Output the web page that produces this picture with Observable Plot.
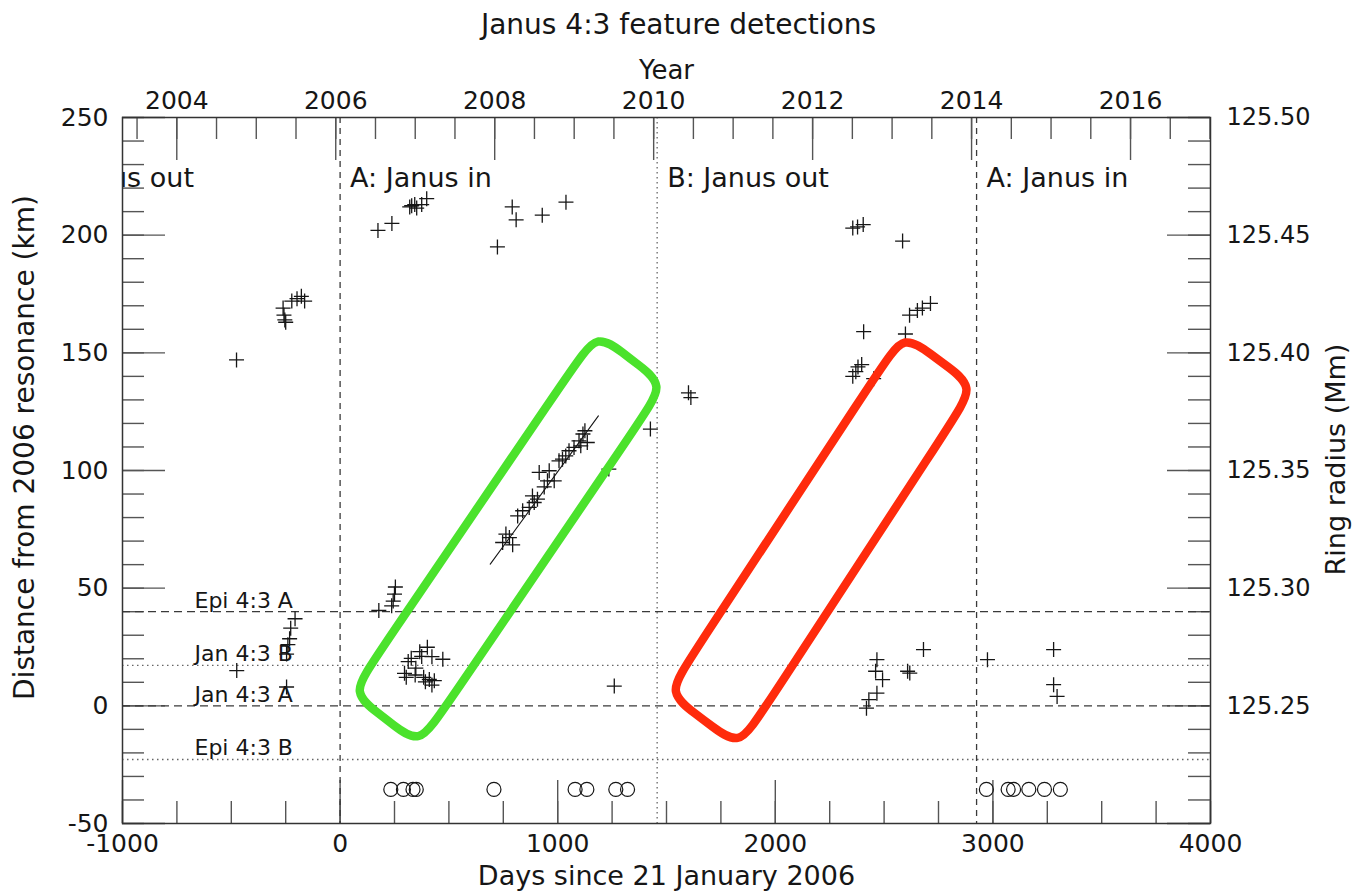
<!DOCTYPE html>
<html>
<head>
<meta charset="utf-8">
<title>Janus 4:3 feature detections</title>
<script src="https://cdn.jsdelivr.net/npm/d3@7"></script>
<script src="https://cdn.jsdelivr.net/npm/@observablehq/plot@0.6"></script>
<style>
  html, body { margin: 0; padding: 0; background: #fff; }
  #chart svg { display: block; }
</style>
</head>
<body>
<div id="chart"></div>
<script>
// ---- Detections: [days since 21 Jan 2006, distance from 2006 resonance (km)] ----
const detections2005 = [
  [-476, 147], [-262, 169], [-258, 166], [-254, 164], [-250, 163],
  [-222, 172], [-198, 173], [-178, 174], [-163, 172],
  [-207, 37], [-227, 33], [-232, 28.5], [-240, 26], [-246, 22], [-246, 8], [-475, 15]
];
const detectionsA2006 = [
  [174, 202], [238, 205], [320, 212], [329, 212.5], [343, 213], [352, 211.5],
  [375, 213], [398, 215.5], [723, 195], [791, 212], [809, 206.5], [929, 208.5], [1038, 214],
  [178, 40.5], [237, 42.5], [244, 44.5], [250, 47.5], [254, 50.5],
  [296, 13.8], [313, 18.8], [327, 20.2], [366, 23], [401, 24.9], [422, 20.9], [472, 19.8],
  [304, 12.1], [345, 13.1], [384, 12.1], [410, 11.2], [433, 10.7], [422, 8.8], [392, 10.2],
  [348, 16], [375, 21],
  [1235, 100.6], [1426, 117.6], [1260, 8.4]
];
const detectionsTrend = [
  [747, 69.4], [778, 71.5], [793, 68.4], [762, 73], [816, 80.7], [839, 82.9], [869, 84.3],
  [884, 89.2], [892, 86.4], [907, 87.8], [915, 99.2], [938, 93], [953, 95.6], [961, 99.9],
  [984, 95.6], [1006, 104.1], [1022, 104.8], [1037, 106.2], [1052, 108.4], [1075, 109.8],
  [1098, 112.6], [1106, 110.5], [1116, 115.5], [1125, 116.9], [1136, 111.9]
];
const detectionsB2010 = [
  [1601, 133], [1612, 131],
  [2356, 203], [2378, 203.5], [2404, 204.5], [2585, 197.5],
  [2356, 140], [2370, 142], [2380, 144], [2397, 145], [2406, 159], [2452, 139],
  [2598, 158], [2617, 166], [2653, 168], [2676, 169], [2713, 171],
  [2467, 19.6], [2461, 14.7], [2493, 11.1], [2467, 5.4], [2430, 2.6], [2419, -1],
  [2608, 14.7], [2618, 13.9], [2681, 23.9]
];
const detectionsA2014 = [[2975, 19.6], [3279, 23.9], [3279, 9], [3295, 4]];

// Observation epochs (circles along the bottom)
const observationDays = [233, 291, 335, 350, 707, 1080, 1134, 1267, 1321,
                         2970, 3070, 3095, 3165, 3237, 3310];
const observationKm = -35.5;

// Linear fit through the drifting feature: [day, km]
const trendFit = [[690, 60.2], [1187, 123.2]];

// Resonance locations (km)
const resonanceLines = [
  { name: "Epi 4:3 A", km: 40, style: "dashed" },
  { name: "Jan 4:3 B", km: 17.2, style: "dotted" },
  { name: "Jan 4:3 A", km: 0, style: "dashed" },
  { name: "Epi 4:3 B", km: -22.8, style: "dotted" }
];

// Co-orbital swap epochs (days) and the configuration that follows
const swapEpochs = [
  { day: -1461, label: "B: Janus out", style: null },
  { day: 0, label: "A: Janus in", style: "dashed" },
  { day: 1457, label: "B: Janus out", style: "dotted" },
  { day: 2925, label: "A: Janus in", style: "dashed" }
];

// Highlight boxes: corners [day, km] (top, right, bottom, left)
const greenBox = [[1179, 158.5], [1491, 136.4], [365, -16.6], [53, 5.5]];
const redBox = [[2589, 158.1], [2916, 135.6], [1835, -17.4], [1505, 5.5]];

// Axis ticks
const dayLabels = [-1000, 0, 1000, 2000, 3000, 4000];
const yearLabels = [2004, 2006, 2008, 2010, 2012, 2014, 2016];
const kmLabels = [-50, 0, 50, 100, 150, 200, 250];

// ---- layout ----
const W = 1359, H = 894;
const M = { top: 117, right: 149, bottom: 71, left: 122 };
const innerW = W - M.left - M.right;
const innerH = H - M.top - M.bottom;
const ink = "#161616";
const tickGray = "#555";
const font = "'DejaVu Sans', 'Liberation Sans', Arial, sans-serif";
const majorLen = 43, minorLen = 22;

const yearToDay = (y) => (y - 2006 - 20 / 365) * 365.25;
const dayMinor = d3.range(-1000, 4001, 250);
const yearMinor = d3.range(2003.5, 2017.01, 0.5).filter((y) => yearToDay(y) >= -1000 && yearToDay(y) <= 4000);
const kmMinor = d3.range(-50, 251, 10);
const radiusFmt = (km) => (125.25 + km / 1000).toFixed(2);

// "+" marker drawn as two strokes
const plusSymbol = {
  draw(ctx, size) {
    const s = Math.sqrt(size / Math.PI);
    ctx.moveTo(-s, 0); ctx.lineTo(s, 0);
    ctx.moveTo(0, -s); ctx.lineTo(0, s);
  }
};

// Rounded rectangle outline: control points around each corner for a closed B-spline
function roundedOutline(corners, frac) {
  const n = corners.length, pts = [];
  for (let i = 0; i < n; i++) {
    const c = corners[i], p = corners[(i + n - 1) % n], q = corners[(i + 1) % n];
    const fp = frac[(i + n - 1) % n], fq = frac[i];
    pts.push([c[0] + (p[0] - c[0]) * fp, c[1] + (p[1] - c[1]) * fp]);
    pts.push(c);
    pts.push([c[0] + (q[0] - c[0]) * fq, c[1] + (q[1] - c[1]) * fq]);
  }
  return pts;
}
const edgeFrac = [0.42, 0.085, 0.42, 0.085];

const detections = [
  ...detections2005, ...detectionsA2006, ...detectionsTrend, ...detectionsB2010, ...detectionsA2014
];

const chart = Plot.plot({
  width: W,
  height: H,
  marginTop: M.top,
  marginRight: M.right,
  marginBottom: M.bottom,
  marginLeft: M.left,
  x: { domain: [-1000, 4000], axis: null },
  y: { domain: [-50, 250], axis: null },
  style: { fontFamily: font, background: "#fff", color: ink, overflow: "visible" },
  marks: [
    // inward ticks: bottom (days), top (years), left (km), right (ring radius)
    Plot.tickX(dayMinor, { x: (d) => d, insetTop: innerH - minorLen, stroke: tickGray, strokeWidth: 1.4 }),
    Plot.tickX(dayLabels, { x: (d) => d, insetTop: innerH - majorLen, stroke: tickGray, strokeWidth: 1.4 }),
    Plot.tickX(yearMinor, { x: yearToDay, insetBottom: innerH - minorLen, stroke: tickGray, strokeWidth: 1.4 }),
    Plot.tickX(yearLabels, { x: yearToDay, insetBottom: innerH - majorLen, stroke: tickGray, strokeWidth: 1.4 }),
    Plot.tickY(kmMinor, { y: (d) => d, insetRight: innerW - minorLen, stroke: tickGray, strokeWidth: 1.4 }),
    Plot.tickY(kmLabels, { y: (d) => d, insetRight: innerW - majorLen, stroke: tickGray, strokeWidth: 1.4 }),
    Plot.tickY(kmMinor, { y: (d) => d, insetLeft: innerW - minorLen, stroke: tickGray, strokeWidth: 1.4 }),
    Plot.tickY(kmLabels, { y: (d) => d, insetLeft: innerW - majorLen, stroke: tickGray, strokeWidth: 1.4 }),

    // resonance levels
    Plot.ruleY(resonanceLines.filter((d) => d.style === "dashed"), { y: "km", stroke: "#3a3a3a", strokeWidth: 1.3, strokeDasharray: "8,5" }),
    Plot.ruleY(resonanceLines.filter((d) => d.style === "dotted"), { y: "km", stroke: "#666", strokeWidth: 1.3, strokeDasharray: "1.5,3.5" }),
    Plot.text(resonanceLines, {
      y: "km", text: "name", frameAnchor: "left", textAnchor: "start", lineAnchor: "bottom",
      dx: 72, dy: -4, fontSize: 22, fill: ink
    }),

    // swap epochs
    Plot.ruleX(swapEpochs.filter((d) => d.style === "dashed"), { x: "day", stroke: "#3a3a3a", strokeWidth: 1.3, strokeDasharray: "6,5" }),
    Plot.ruleX(swapEpochs.filter((d) => d.style === "dotted"), { x: "day", stroke: "#666", strokeWidth: 1.3, strokeDasharray: "1.5,3.5" }),
    Plot.text(swapEpochs, {
      x: "day", text: "label", frameAnchor: "top", textAnchor: "start", lineAnchor: "top",
      dx: 10, dy: 50, fontSize: 27, fill: ink, clip: true
    }),

    Plot.frame({ stroke: "#333", strokeWidth: 1.5 }),

    // observations and detections
    Plot.dot(observationDays, { x: (d) => d, y: () => observationKm, r: 7, fill: "none", stroke: ink, strokeWidth: 1.2 }),
    Plot.line(trendFit, { x: (d) => d[0], y: (d) => d[1], stroke: ink, strokeWidth: 1.1 }),
    Plot.dot(detections, { x: (d) => d[0], y: (d) => d[1], symbol: plusSymbol, r: 7.5, fill: "none", stroke: ink, strokeWidth: 1.3 }),

    // highlight boxes
    Plot.line(roundedOutline(greenBox, edgeFrac), { x: (d) => d[0], y: (d) => d[1], curve: "basis-closed", stroke: "#4be22c", strokeWidth: 8.5 }),
    Plot.line(roundedOutline(redBox, edgeFrac), { x: (d) => d[0], y: (d) => d[1], curve: "basis-closed", stroke: "#ff2b0c", strokeWidth: 8.5 }),

    // tick labels
    Plot.text(dayLabels, { x: (d) => d, text: (d) => String(d), frameAnchor: "bottom", textAnchor: "middle", lineAnchor: "top", dy: 11, fontSize: 25, fill: ink }),
    Plot.text(yearLabels, { x: yearToDay, text: (d) => String(d), frameAnchor: "top", textAnchor: "middle", lineAnchor: "bottom", dy: -9, fontSize: 25, fill: ink }),
    Plot.text(kmLabels, { y: (d) => d, text: (d) => String(d), frameAnchor: "left", textAnchor: "end", lineAnchor: "middle", dx: -14, fontSize: 25, fill: ink }),
    Plot.text(kmLabels.filter((k) => k >= 0), { y: (d) => d, text: radiusFmt, frameAnchor: "right", textAnchor: "start", lineAnchor: "middle", dx: 16, fontSize: 24, fill: ink }),

    // axis titles and chart title
    Plot.text(["Days since 21 January 2006"], { text: (d) => d, frameAnchor: "bottom", textAnchor: "middle", lineAnchor: "middle", dy: 53, fontSize: 27, fill: ink }),
    Plot.text(["Year"], { text: (d) => d, frameAnchor: "top", textAnchor: "middle", lineAnchor: "bottom", dy: -39, fontSize: 26, fill: ink }),
    Plot.text(["Janus 4:3 feature detections"], { text: (d) => d, frameAnchor: "top", textAnchor: "middle", lineAnchor: "bottom", dx: 12, dy: -84, fontSize: 28, fill: ink }),
    Plot.text(["Distance from 2006 resonance (km)"], { text: (d) => d, frameAnchor: "left", textAnchor: "middle", rotate: -90, lineAnchor: "bottom", dx: -89, dy: -23, fontSize: 28, fill: ink }),
    Plot.text(["Ring radius (Mm)"], { text: (d) => d, frameAnchor: "right", textAnchor: "middle", rotate: -90, lineAnchor: "bottom", dx: 134, dy: -11, fontSize: 27, fill: ink })
  ]
});

document.getElementById("chart").appendChild(chart);
</script>
</body>
</html>
